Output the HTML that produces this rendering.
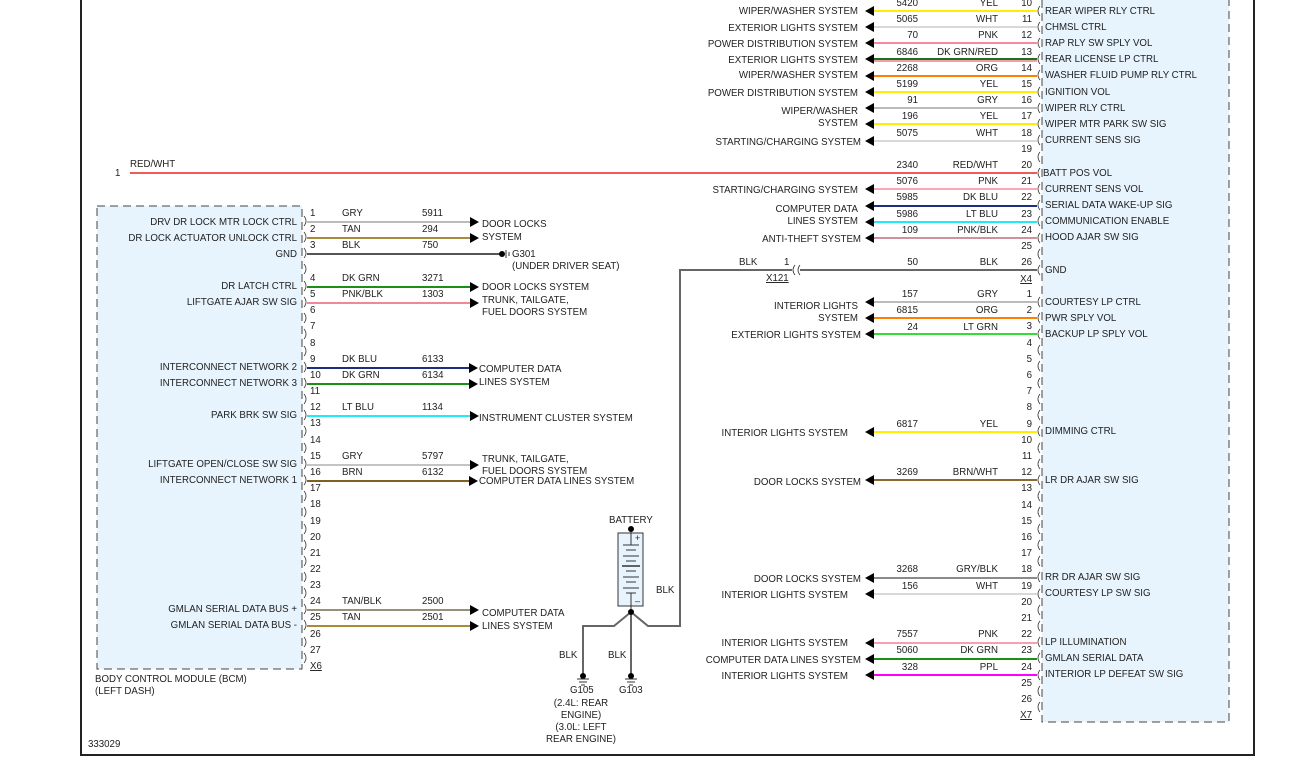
<!DOCTYPE html>
<html><head><meta charset="utf-8"><style>
html,body{margin:0;padding:0;background:#fff;}
svg{display:block;font-family:"Liberation Sans",sans-serif;font-size:9.7px;fill:#222;}
.e{text-anchor:end}
</style></head><body>
<svg width="1305" height="763" viewBox="0 0 1305 763" xmlns="http://www.w3.org/2000/svg">
<path d="M81,-5 V755 H1254 V-5" fill="none" stroke="#222" stroke-width="2"/>
<rect x="97" y="206" width="205" height="463" fill="#e8f4fd" stroke="#444" stroke-dasharray="8,5"/>
<rect x="1042" y="-10" width="187" height="732" fill="#e8f4fd" stroke="#444" stroke-dasharray="8,5"/>
<text x="95" y="682">BODY CONTROL MODULE (BCM)</text>
<text x="95" y="694">(LEFT DASH)</text>
<text x="88" y="747">333029</text>

<g fill="none" stroke="#333" stroke-width="0.8">
<path d="M304,216 q4,5 0,10 M304,232 q4,5 0,10 M304,248 q4,5 0,10 M304,264 q4,5 0,10 M304,281 q4,5 0,10 M304,297 q4,5 0,10 M304,313 q4,5 0,10 M304,329 q4,5 0,10 M304,346 q4,5 0,10 M304,362 q4,5 0,10 M304,378 q4,5 0,10 M304,394 q4,5 0,10 M304,410 q4,5 0,10 M304,426 q4,5 0,10 M304,443 q4,5 0,10 M304,459 q4,5 0,10 M304,475 q4,5 0,10 M304,491 q4,5 0,10 M304,507 q4,5 0,10 M304,524 q4,5 0,10 M304,540 q4,5 0,10 M304,556 q4,5 0,10 M304,572 q4,5 0,10 M304,588 q4,5 0,10 M304,604 q4,5 0,10 M304,620 q4,5 0,10 M304,637 q4,5 0,10 M304,653 q4,5 0,10"/>
</g>
<g>
<text x="310" y="216">1</text><text x="310" y="232">2</text><text x="310" y="248">3</text>
<text x="310" y="281">4</text><text x="310" y="297">5</text><text x="310" y="313">6</text><text x="310" y="329">7</text><text x="310" y="346">8</text><text x="310" y="362">9</text><text x="310" y="378">10</text><text x="310" y="394">11</text><text x="310" y="410">12</text><text x="310" y="426">13</text><text x="310" y="443">14</text><text x="310" y="459">15</text><text x="310" y="475">16</text><text x="310" y="491">17</text><text x="310" y="507">18</text><text x="310" y="524">19</text><text x="310" y="540">20</text><text x="310" y="556">21</text><text x="310" y="572">22</text><text x="310" y="588">23</text><text x="310" y="604">24</text><text x="310" y="620">25</text><text x="310" y="637">26</text><text x="310" y="653">27</text>
<text x="310" y="669" text-decoration="underline">X6</text>
</g>
<g class="e">
<text class="e" x="297" y="225">DRV DR LOCK MTR LOCK CTRL</text>
<text class="e" x="297" y="241">DR LOCK ACTUATOR UNLOCK CTRL</text>
<text class="e" x="297" y="257">GND</text>
<text class="e" x="297" y="289">DR LATCH CTRL</text>
<text class="e" x="297" y="305">LIFTGATE AJAR SW SIG</text>
<text class="e" x="297" y="370">INTERCONNECT NETWORK 2</text>
<text class="e" x="297" y="386">INTERCONNECT NETWORK 3</text>
<text class="e" x="297" y="418">PARK BRK SW SIG</text>
<text class="e" x="297" y="467">LIFTGATE OPEN/CLOSE SW SIG</text>
<text class="e" x="297" y="483">INTERCONNECT NETWORK 1</text>
<text class="e" x="297" y="612">GMLAN SERIAL DATA BUS +</text>
<text class="e" x="297" y="628">GMLAN SERIAL DATA BUS -</text>
</g>
<g stroke-width="2">
<line x1="307" y1="222" x2="472" y2="222" stroke="#bbb"/>
<line x1="307" y1="238" x2="472" y2="238" stroke="#a88a3a"/>
<line x1="307" y1="254" x2="500" y2="254" stroke="#555"/>
<line x1="307" y1="287" x2="472" y2="287" stroke="#1a8f1a"/>
<line x1="307" y1="303" x2="472" y2="303" stroke="#f08898"/>
<line x1="307" y1="368" x2="470" y2="368" stroke="#1a2f80"/>
<line x1="307" y1="384" x2="470" y2="384" stroke="#1a8f1a"/>
<line x1="307" y1="416" x2="472" y2="416" stroke="#22e8f8"/>
<line x1="307" y1="465" x2="472" y2="465" stroke="#c4c4c4"/>
<line x1="307" y1="481" x2="470" y2="481" stroke="#806020"/>
<line x1="307" y1="610" x2="472" y2="610" stroke="#9a9078"/>
<line x1="307" y1="626" x2="472" y2="626" stroke="#a88a3a"/>
</g>
<g fill="#000">
<polygon points="479,222 470,217 470,227"/><polygon points="479,238 470,233 470,243"/>
<polygon points="479,287 470,282 470,292"/><polygon points="479,303 470,298 470,308"/>
<polygon points="478,368 469,363 469,373"/><polygon points="478,384 469,379 469,389"/>
<polygon points="479,416 470,411 470,421"/><polygon points="479,465 470,460 470,470"/>
<polygon points="478,481 469,476 469,486"/><polygon points="479,610 470,605 470,615"/>
<polygon points="479,626 470,621 470,631"/>
<circle cx="502" cy="254" r="3"/>
</g>
<path d="M506,250 v8 M509,252 v4" stroke="#333" stroke-width="1"/>
<g>
<text x="342" y="216">GRY</text><text x="422" y="216">5911</text>
<text x="342" y="232">TAN</text><text x="422" y="232">294</text>
<text x="342" y="248">BLK</text><text x="422" y="248">750</text>
<text x="342" y="281">DK GRN</text><text x="422" y="281">3271</text>
<text x="342" y="297">PNK/BLK</text><text x="422" y="297">1303</text>
<text x="342" y="362">DK BLU</text><text x="422" y="362">6133</text>
<text x="342" y="378">DK GRN</text><text x="422" y="378">6134</text>
<text x="342" y="410">LT BLU</text><text x="422" y="410">1134</text>
<text x="342" y="459">GRY</text><text x="422" y="459">5797</text>
<text x="342" y="475">BRN</text><text x="422" y="475">6132</text>
<text x="342" y="604">TAN/BLK</text><text x="422" y="604">2500</text>
<text x="342" y="620">TAN</text><text x="422" y="620">2501</text>
</g>
<g>
<text x="482" y="227">DOOR LOCKS</text><text x="482" y="240">SYSTEM</text>
<text x="512" y="257">G301</text><text x="512" y="269">(UNDER DRIVER SEAT)</text>
<text x="482" y="290">DOOR LOCKS SYSTEM</text>
<text x="482" y="303">TRUNK, TAILGATE,</text><text x="482" y="315">FUEL DOORS SYSTEM</text>
<text x="479" y="372">COMPUTER DATA</text><text x="479" y="385">LINES SYSTEM</text>
<text x="479" y="421">INSTRUMENT CLUSTER SYSTEM</text>
<text x="482" y="462">TRUNK, TAILGATE,</text><text x="482" y="474">FUEL DOORS SYSTEM</text>
<text x="479" y="484">COMPUTER DATA LINES SYSTEM</text>
<text x="482" y="616">COMPUTER DATA</text><text x="482" y="629">LINES SYSTEM</text>
</g>

<line x1="130" y1="173" x2="1037" y2="173" stroke="#f05a5a" stroke-width="2"/>
<text x="115" y="176">1</text><text x="130" y="167">RED/WHT</text>

<g fill="none" stroke="#333" stroke-width="0.8">
<path d="M1040,6 q-4,5 0,10 M1040,22 q-4,5 0,10 M1040,38 q-4,5 0,10 M1040,54 q-4,5 0,10 M1040,70 q-4,5 0,10 M1040,87 q-4,5 0,10 M1040,103 q-4,5 0,10 M1040,119 q-4,5 0,10 M1040,135 q-4,5 0,10 M1040,152 q-4,5 0,10 M1040,168 q-4,5 0,10 M1040,184 q-4,5 0,10 M1040,200 q-4,5 0,10 M1040,216 q-4,5 0,10 M1040,233 q-4,5 0,10 M1040,249 q-4,5 0,10 M1040,265 q-4,5 0,10"/>
<path d="M1040,297 q-4,5 0,10 M1040,313 q-4,5 0,10 M1040,329 q-4,5 0,10 M1040,345 q-4,5 0,10 M1040,361 q-4,5 0,10 M1040,378 q-4,5 0,10 M1040,394 q-4,5 0,10 M1040,410 q-4,5 0,10 M1040,426 q-4,5 0,10 M1040,443 q-4,5 0,10 M1040,459 q-4,5 0,10 M1040,475 q-4,5 0,10 M1040,491 q-4,5 0,10 M1040,507 q-4,5 0,10 M1040,524 q-4,5 0,10 M1040,540 q-4,5 0,10 M1040,556 q-4,5 0,10 M1040,572 q-4,5 0,10 M1040,589 q-4,5 0,10 M1040,605 q-4,5 0,10 M1040,621 q-4,5 0,10 M1040,637 q-4,5 0,10 M1040,653 q-4,5 0,10 M1040,670 q-4,5 0,10 M1040,686 q-4,5 0,10 M1040,702 q-4,5 0,10"/>
</g>
<g>
<text class="e" x="1032" y="6">10</text><text class="e" x="1032" y="22">11</text><text class="e" x="1032" y="38">12</text><text class="e" x="1032" y="55">13</text><text class="e" x="1032" y="71">14</text><text class="e" x="1032" y="87">15</text><text class="e" x="1032" y="103">16</text><text class="e" x="1032" y="119">17</text><text class="e" x="1032" y="136">18</text><text class="e" x="1032" y="152">19</text><text class="e" x="1032" y="168">20</text><text class="e" x="1032" y="184">21</text><text class="e" x="1032" y="200">22</text><text class="e" x="1032" y="217">23</text><text class="e" x="1032" y="233">24</text><text class="e" x="1032" y="249">25</text><text class="e" x="1032" y="265">26</text>
<text class="e" x="1032" y="282" text-decoration="underline">X4</text>
<text class="e" x="1032" y="297">1</text><text class="e" x="1032" y="313">2</text><text class="e" x="1032" y="329">3</text><text class="e" x="1032" y="346">4</text><text class="e" x="1032" y="362">5</text><text class="e" x="1032" y="378">6</text><text class="e" x="1032" y="394">7</text><text class="e" x="1032" y="410">8</text><text class="e" x="1032" y="427">9</text><text class="e" x="1032" y="443">10</text><text class="e" x="1032" y="459">11</text><text class="e" x="1032" y="475">12</text><text class="e" x="1032" y="491">13</text><text class="e" x="1032" y="508">14</text><text class="e" x="1032" y="524">15</text><text class="e" x="1032" y="540">16</text><text class="e" x="1032" y="556">17</text><text class="e" x="1032" y="572">18</text><text class="e" x="1032" y="589">19</text><text class="e" x="1032" y="605">20</text><text class="e" x="1032" y="621">21</text><text class="e" x="1032" y="637">22</text><text class="e" x="1032" y="653">23</text><text class="e" x="1032" y="670">24</text><text class="e" x="1032" y="686">25</text><text class="e" x="1032" y="702">26</text>
<text class="e" x="1032" y="718" text-decoration="underline">X7</text>
</g>
<g>
<text x="1045" y="14">REAR WIPER RLY CTRL</text>
<text x="1045" y="30">CHMSL CTRL</text>
<text x="1045" y="46">RAP RLY SW SPLY VOL</text>
<text x="1045" y="62">REAR LICENSE LP CTRL</text>
<text x="1045" y="78">WASHER FLUID PUMP RLY CTRL</text>
<text x="1045" y="95">IGNITION VOL</text>
<text x="1045" y="111">WIPER RLY CTRL</text>
<text x="1045" y="127">WIPER MTR PARK SW SIG</text>
<text x="1045" y="143">CURRENT SENS SIG</text>
<text x="1043" y="176">BATT POS VOL</text>
<text x="1045" y="192">CURRENT SENS VOL</text>
<text x="1045" y="208">SERIAL DATA WAKE-UP SIG</text>
<text x="1045" y="224">COMMUNICATION ENABLE</text>
<text x="1045" y="240">HOOD AJAR SW SIG</text>
<text x="1045" y="273">GND</text>
<text x="1045" y="305">COURTESY LP CTRL</text>
<text x="1045" y="321">PWR SPLY VOL</text>
<text x="1045" y="337">BACKUP LP SPLY VOL</text>
<text x="1045" y="434">DIMMING CTRL</text>
<text x="1045" y="483">LR DR AJAR SW SIG</text>
<text x="1045" y="580">RR DR AJAR SW SIG</text>
<text x="1045" y="596">COURTESY LP SW SIG</text>
<text x="1045" y="645">LP ILLUMINATION</text>
<text x="1045" y="661">GMLAN SERIAL DATA</text>
<text x="1045" y="677">INTERIOR LP DEFEAT SW SIG</text>
</g>
<g stroke-width="2">
<line x1="874" y1="11" x2="1037" y2="11" stroke="#ffee00"/>
<line x1="874" y1="27" x2="1037" y2="27" stroke="#d8d8d8"/>
<line x1="874" y1="43" x2="1037" y2="43" stroke="#f88aa0"/>
<line x1="874" y1="59" x2="1037" y2="59" stroke="#1f6f1f"/>
<line x1="874" y1="61" x2="1037" y2="61" stroke="#e04040" stroke-width="1"/>
<line x1="874" y1="76" x2="1037" y2="76" stroke="#ff8000"/>
<line x1="874" y1="92" x2="1037" y2="92" stroke="#ffee00"/>
<line x1="874" y1="108" x2="1037" y2="108" stroke="#bbb"/>
<line x1="874" y1="124" x2="1037" y2="124" stroke="#ffee00"/>
<line x1="874" y1="141" x2="1037" y2="141" stroke="#d8d8d8"/>
<line x1="874" y1="189" x2="1037" y2="189" stroke="#f8a8b8"/>
<line x1="874" y1="206" x2="1037" y2="206" stroke="#1a2f80"/>
<line x1="874" y1="222" x2="1037" y2="222" stroke="#22e8f8"/>
<line x1="874" y1="238" x2="1037" y2="238" stroke="#d0909c"/>
<line x1="874" y1="302" x2="1037" y2="302" stroke="#bbb"/>
<line x1="874" y1="318" x2="1037" y2="318" stroke="#ff8000"/>
<line x1="874" y1="334" x2="1037" y2="334" stroke="#33dd33"/>
<line x1="874" y1="432" x2="1037" y2="432" stroke="#ffee00"/>
<line x1="874" y1="480" x2="1037" y2="480" stroke="#8a6a30"/>
<line x1="874" y1="578" x2="1037" y2="578" stroke="#8a8a8a"/>
<line x1="874" y1="594" x2="1037" y2="594" stroke="#d8d8d8"/>
<line x1="874" y1="643" x2="1037" y2="643" stroke="#f8a0b0"/>
<line x1="874" y1="659" x2="1037" y2="659" stroke="#1a8f1a"/>
<line x1="874" y1="675" x2="1037" y2="675" stroke="#ff00ff"/>
</g>
<g fill="#000">
<polygon points="865,11 874,6 874,16"/><polygon points="865,27 874,22 874,32"/><polygon points="865,43 874,38 874,48"/><polygon points="865,59 874,54 874,64"/><polygon points="865,76 874,71 874,81"/><polygon points="865,92 874,87 874,97"/><polygon points="865,108 874,103 874,113"/><polygon points="865,124 874,119 874,129"/><polygon points="865,141 874,136 874,146"/>
<polygon points="865,189 874,184 874,194"/><polygon points="865,206 874,201 874,211"/><polygon points="865,222 874,217 874,227"/><polygon points="865,238 874,233 874,243"/>
<polygon points="865,302 874,297 874,307"/><polygon points="865,318 874,313 874,323"/><polygon points="865,334 874,329 874,339"/>
<polygon points="865,432 874,427 874,437"/><polygon points="865,480 874,475 874,485"/><polygon points="865,578 874,573 874,583"/><polygon points="865,594 874,589 874,599"/>
<polygon points="865,643 874,638 874,648"/><polygon points="865,659 874,654 874,664"/><polygon points="865,675 874,670 874,680"/>
</g>
<g>
<text class="e" x="918" y="6">5420</text><text class="e" x="998" y="6">YEL</text>
<text class="e" x="918" y="22">5065</text><text class="e" x="998" y="22">WHT</text>
<text class="e" x="918" y="38">70</text><text class="e" x="998" y="38">PNK</text>
<text class="e" x="918" y="55">6846</text><text class="e" x="998" y="55">DK GRN/RED</text>
<text class="e" x="918" y="71">2268</text><text class="e" x="998" y="71">ORG</text>
<text class="e" x="918" y="87">5199</text><text class="e" x="998" y="87">YEL</text>
<text class="e" x="918" y="103">91</text><text class="e" x="998" y="103">GRY</text>
<text class="e" x="918" y="119">196</text><text class="e" x="998" y="119">YEL</text>
<text class="e" x="918" y="136">5075</text><text class="e" x="998" y="136">WHT</text>
<text class="e" x="918" y="168">2340</text><text class="e" x="998" y="168">RED/WHT</text>
<text class="e" x="918" y="184">5076</text><text class="e" x="998" y="184">PNK</text>
<text class="e" x="918" y="200">5985</text><text class="e" x="998" y="200">DK BLU</text>
<text class="e" x="918" y="217">5986</text><text class="e" x="998" y="217">LT BLU</text>
<text class="e" x="918" y="233">109</text><text class="e" x="998" y="233">PNK/BLK</text>
<text class="e" x="918" y="265">50</text><text class="e" x="998" y="265">BLK</text>
<text class="e" x="918" y="297">157</text><text class="e" x="998" y="297">GRY</text>
<text class="e" x="918" y="313">6815</text><text class="e" x="998" y="313">ORG</text>
<text class="e" x="918" y="330">24</text><text class="e" x="998" y="330">LT GRN</text>
<text class="e" x="918" y="427">6817</text><text class="e" x="998" y="427">YEL</text>
<text class="e" x="918" y="475">3269</text><text class="e" x="998" y="475">BRN/WHT</text>
<text class="e" x="918" y="572">3268</text><text class="e" x="998" y="572">GRY/BLK</text>
<text class="e" x="918" y="589">156</text><text class="e" x="998" y="589">WHT</text>
<text class="e" x="918" y="637">7557</text><text class="e" x="998" y="637">PNK</text>
<text class="e" x="918" y="653">5060</text><text class="e" x="998" y="653">DK GRN</text>
<text class="e" x="918" y="670">328</text><text class="e" x="998" y="670">PPL</text>
</g>
<g>
<text class="e" x="858" y="14">WIPER/WASHER SYSTEM</text>
<text class="e" x="858" y="31">EXTERIOR LIGHTS SYSTEM</text>
<text class="e" x="858" y="47">POWER DISTRIBUTION SYSTEM</text>
<text class="e" x="858" y="63">EXTERIOR LIGHTS SYSTEM</text>
<text class="e" x="858" y="78">WIPER/WASHER SYSTEM</text>
<text class="e" x="858" y="96">POWER DISTRIBUTION SYSTEM</text>
<text class="e" x="858" y="114">WIPER/WASHER</text><text class="e" x="858" y="126">SYSTEM</text>
<text class="e" x="861" y="145">STARTING/CHARGING SYSTEM</text>
<text class="e" x="858" y="193">STARTING/CHARGING SYSTEM</text>
<text class="e" x="858" y="212">COMPUTER DATA</text><text class="e" x="858" y="224">LINES SYSTEM</text>
<text class="e" x="861" y="242">ANTI-THEFT SYSTEM</text>
<text class="e" x="858" y="309">INTERIOR LIGHTS</text><text class="e" x="858" y="321">SYSTEM</text>
<text class="e" x="861" y="338">EXTERIOR LIGHTS SYSTEM</text>
<text class="e" x="848" y="436">INTERIOR LIGHTS SYSTEM</text>
<text class="e" x="861" y="485">DOOR LOCKS SYSTEM</text>
<text class="e" x="861" y="582">DOOR LOCKS SYSTEM</text>
<text class="e" x="848" y="598">INTERIOR LIGHTS SYSTEM</text>
<text class="e" x="848" y="646">INTERIOR LIGHTS SYSTEM</text>
<text class="e" x="861" y="663">COMPUTER DATA LINES SYSTEM</text>
<text class="e" x="848" y="679">INTERIOR LIGHTS SYSTEM</text>
</g>

<path d="M1037,270 H800 M792,270 H680 V626 H648 L631,612 L614,626 H583 V676 M631,612 V676" fill="none" stroke="#666" stroke-width="2"/>
<path d="M795,265 q-4,5 0,10 M800,265 q-4,5 0,10" fill="none" stroke="#333" stroke-width="0.8"/>
<text x="739" y="265">BLK</text><text x="784" y="265">1</text>
<text x="766" y="281" text-decoration="underline">X121</text>
<text x="656" y="593">BLK</text>
<text x="559" y="658">BLK</text><text x="608" y="658">BLK</text>
<text x="609" y="523">BATTERY</text>
<rect x="618" y="533" width="25" height="73" fill="#e8f4fd" stroke="#333"/>
<g stroke="#333" stroke-width="1">
<line x1="631" y1="529" x2="631" y2="545"/>
<line x1="623" y1="545" x2="639" y2="545"/><line x1="626" y1="550" x2="636" y2="550"/>
<line x1="623" y1="556" x2="639" y2="556"/><line x1="626" y1="561" x2="636" y2="561"/>
<line x1="622" y1="566" x2="640" y2="566" stroke-width="1.5"/><line x1="626" y1="571" x2="636" y2="571"/>
<line x1="623" y1="577" x2="639" y2="577"/><line x1="626" y1="582" x2="636" y2="582"/>
<line x1="623" y1="588" x2="639" y2="588"/><line x1="626" y1="593" x2="636" y2="593"/>
<line x1="631" y1="593" x2="631" y2="612"/>
</g>
<text x="635" y="541" font-size="9">+</text><text x="635" y="604" font-size="9">–</text>
<g fill="#000"><circle cx="631" cy="529" r="3"/><circle cx="631" cy="612" r="3"/><circle cx="583" cy="676" r="3"/><circle cx="631" cy="676" r="3"/></g>
<path d="M577,679 h12 M579,682 h8 M581,685 h4 M625,679 h12 M627,682 h8 M629,685 h4" stroke="#333" stroke-width="1"/>
<text x="570" y="693">G105</text><text x="619" y="693">G103</text>
<g text-anchor="middle">
<text x="581" y="706">(2.4L: REAR</text><text x="581" y="718">ENGINE)</text>
<text x="581" y="730">(3.0L: LEFT</text><text x="581" y="742">REAR ENGINE)</text>
</g>
</svg>
</body></html>
